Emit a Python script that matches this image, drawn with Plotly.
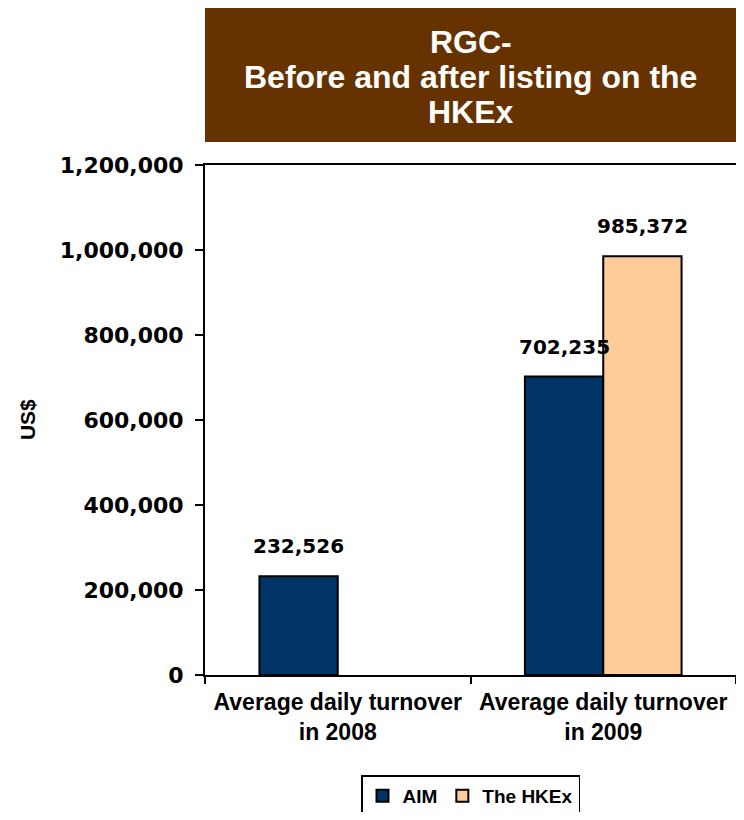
import plotly.graph_objects as go

categories = ["Average daily turnover<br>in 2008", "Average daily turnover<br>in 2009"]
aim_values = [232526, 702235]
hkex_values = [None, 985372]
series_names = ["AIM", "The HKEx"]
y_ticks = [0, 200000, 400000, 600000, 800000, 1000000, 1200000]
title_lines = ["RGC-", "Before and after listing on the", "HKEx"]

FONT = "Liberation Sans, Arial, sans-serif"
WIDE = "DejaVu Sans, sans-serif"
NAVY = "#003366"
PEACH = "#FFCC99"
BROWN = "#663300"

W, H = 728, 804
ML, MR, MT, MB = 197, 0, 157, 137
BARGAP = 0.41

series = [(series_names[0], aim_values, NAVY), (series_names[1], hkex_values, PEACH)]

fig = go.Figure()
for name, vals, col in series:
    fig.add_trace(go.Bar(
        name=name, x=categories, y=vals,
        marker=dict(color=col, line=dict(color="black", width=2)),
        cliponaxis=False,
    ))

fig.update_layout(
    width=W, height=H,
    margin=dict(l=ML, r=MR, t=MT, b=MB, autoexpand=False),
    paper_bgcolor="white", plot_bgcolor="white",
    barmode="group", bargap=BARGAP, bargroupgap=0,
    font=dict(family=FONT, size=18, color="black"),
    showlegend=True,
    legend=dict(orientation="h", x=0.5, xanchor="center", y=-0.197, yanchor="top",
                bordercolor="black", borderwidth=1.5,
                font=dict(family=FONT, size=19, color="black", weight="bold"),
                itemwidth=30, tracegroupgap=0),
)
fig.update_xaxes(
    type="category", showline=True, linecolor="black", linewidth=2, mirror=True,
    ticks="outside", ticklen=7, tickwidth=2, tickcolor="black", tickson="boundaries",
    tickfont=dict(family=FONT, size=23, color="black", weight="bold"),
    ticklabelstandoff=5,
    showgrid=False,
)
fig.update_yaxes(
    range=[0, 1200000], tickvals=y_ticks, tickformat=",d",
    showline=True, linecolor="black", linewidth=2, mirror=True,
    ticks="outside", ticklen=8, tickwidth=2, tickcolor="black",
    tickfont=dict(family=WIDE, size=22, color="black", weight="bold"),
    ticklabelstandoff=7,
    showgrid=False, zeroline=False,
)

# value labels (drawn on top of all bars, as in the reference)
plot_w = W - ML - MR
bar_w = plot_w / len(categories) * (1 - BARGAP) / len(series)
for i, (name, vals, col) in enumerate(series):
    shift = (i - (len(series) - 1) / 2) * bar_w
    for cat, v in zip(categories, vals):
        if v is None:
            continue
        fig.add_annotation(x=cat, y=v, xref="x", yref="y", xshift=shift, yshift=30,
                           xanchor="center", yanchor="middle", showarrow=False,
                           text=f"{v:,}",
                           font=dict(family=WIDE, size=20, color="black", weight="bold"))

fig.add_shape(type="rect", xref="paper", yref="paper",
              x0=0, x1=1, y0=1.045, y1=1.308,
              fillcolor=BROWN, line=dict(width=0), layer="below")
for line, yy in zip(title_lines, [1.241, 1.1725, 1.104]):
    fig.add_annotation(xref="paper", yref="paper", x=0.5, y=yy,
                       xanchor="center", yanchor="middle", showarrow=False,
                       text=line,
                       font=dict(family=FONT, size=32, color="white", weight="bold"))
fig.add_annotation(xref="paper", yref="paper", x=-0.335, y=0.5,
                   xanchor="center", yanchor="middle", showarrow=False, textangle=-90,
                   text="US$", font=dict(family=FONT, size=21, color="black", weight="bold"))

fig.write_html("out.html")
